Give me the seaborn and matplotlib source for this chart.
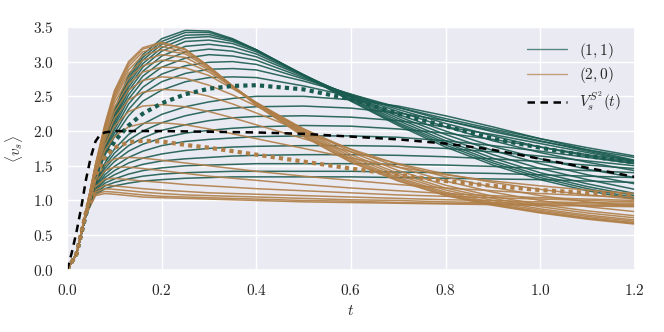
import pandas as pd
import matplotlib
matplotlib.use("Agg")
import matplotlib.pyplot as plt
import seaborn as sns
from matplotlib.lines import Line2D

# sample times shared by the (1,1) and (2,0) curves
t = [0.0, 0.02, 0.04, 0.06, 0.08, 0.10, 0.13, 0.16, 0.20, 0.25, 0.30,
     0.35, 0.40, 0.50, 0.60, 0.70, 0.80, 0.90, 1.00, 1.10, 1.20]

# (1,1) family (highest peak first)
teal_11 = [
    [0, .23, .80, 1.40, 1.90, 2.30, 2.80, 3.10, 3.33, 3.45, 3.44, 3.33, 3.17, 2.80, 2.43, 2.08, 1.77, 1.51, 1.30, 1.14, 1.02],
    [0, .23, .80, 1.39, 1.88, 2.27, 2.76, 3.06, 3.29, 3.42, 3.42, 3.32, 3.17, 2.80, 2.44, 2.10, 1.80, 1.54, 1.33, 1.17, 1.04],
    [0, .23, .80, 1.38, 1.86, 2.24, 2.72, 3.02, 3.25, 3.38, 3.39, 3.31, 3.17, 2.81, 2.46, 2.12, 1.83, 1.57, 1.36, 1.20, 1.07],
    [0, .23, .80, 1.37, 1.84, 2.21, 2.68, 2.97, 3.20, 3.34, 3.36, 3.29, 3.16, 2.81, 2.47, 2.15, 1.86, 1.61, 1.40, 1.24, 1.10],
    [0, .23, .80, 1.36, 1.82, 2.18, 2.63, 2.92, 3.15, 3.29, 3.31, 3.26, 3.14, 2.81, 2.49, 2.18, 1.90, 1.66, 1.46, 1.30, 1.16],
    [0, .23, .80, 1.35, 1.80, 2.15, 2.58, 2.86, 3.08, 3.22, 3.25, 3.21, 3.11, 2.80, 2.50, 2.21, 1.95, 1.72, 1.53, 1.37, 1.24],
    [0, .23, .80, 1.34, 1.77, 2.11, 2.52, 2.79, 3.00, 3.14, 3.18, 3.15, 3.07, 2.79, 2.51, 2.24, 2.00, 1.78, 1.60, 1.45, 1.33],
    [0, .23, .80, 1.33, 1.74, 2.07, 2.46, 2.72, 2.92, 3.05, 3.10, 3.08, 3.02, 2.77, 2.52, 2.28, 2.06, 1.86, 1.69, 1.55, 1.43],
    [0, .23, .80, 1.32, 1.71, 2.02, 2.39, 2.63, 2.82, 2.94, 2.99, 3.00, 2.96, 2.75, 2.53, 2.31, 2.11, 1.93, 1.77, 1.64, 1.53],
    [0, .23, .80, 1.31, 1.68, 1.97, 2.31, 2.54, 2.71, 2.83, 2.89, 2.90, 2.88, 2.72, 2.53, 2.34, 2.15, 1.99, 1.85, 1.73, 1.62],
    [0, .23, .80, 1.30, 1.65, 1.92, 2.22, 2.43, 2.59, 2.71, 2.77, 2.78, 2.77, 2.65, 2.50, 2.34, 2.18, 2.03, 1.89, 1.76, 1.64],
    [0, .23, .80, 1.26, 1.54, 1.74, 1.95, 2.10, 2.24, 2.35, 2.42, 2.47, 2.50, 2.50, 2.45, 2.36, 2.22, 2.06, 1.89, 1.73, 1.58],
    [0, .23, .80, 1.24, 1.50, 1.68, 1.87, 2.00, 2.12, 2.22, 2.29, 2.33, 2.35, 2.36, 2.33, 2.26, 2.15, 2.01, 1.86, 1.71, 1.57],
    [0, .23, .80, 1.22, 1.46, 1.62, 1.79, 1.90, 2.01, 2.09, 2.15, 2.19, 2.21, 2.22, 2.20, 2.15, 2.06, 1.95, 1.82, 1.69, 1.56],
    [0, .23, .80, 1.20, 1.42, 1.56, 1.71, 1.81, 1.90, 1.97, 2.01, 2.04, 2.06, 2.08, 2.07, 2.03, 1.97, 1.88, 1.77, 1.66, 1.55],
    [0, .23, .80, 1.18, 1.37, 1.49, 1.62, 1.71, 1.79, 1.85, 1.88, 1.90, 1.92, 1.93, 1.93, 1.91, 1.86, 1.79, 1.71, 1.62, 1.53],
    [0, .23, .80, 1.16, 1.33, 1.43, 1.54, 1.61, 1.67, 1.72, 1.75, 1.77, 1.78, 1.79, 1.79, 1.78, 1.75, 1.70, 1.64, 1.57, 1.50],
    [0, .23, .80, 1.14, 1.29, 1.37, 1.46, 1.52, 1.57, 1.60, 1.62, 1.64, 1.65, 1.66, 1.66, 1.65, 1.63, 1.60, 1.56, 1.51, 1.46],
    [0, .23, .80, 1.12, 1.25, 1.31, 1.38, 1.43, 1.47, 1.50, 1.51, 1.52, 1.53, 1.53, 1.53, 1.52, 1.51, 1.49, 1.46, 1.43, 1.40],
    [0, .23, .80, 1.10, 1.21, 1.26, 1.31, 1.35, 1.38, 1.40, 1.41, 1.42, 1.42, 1.42, 1.42, 1.41, 1.40, 1.39, 1.37, 1.35, 1.33],
    [0, .23, .80, 1.08, 1.17, 1.21, 1.25, 1.28, 1.30, 1.32, 1.33, 1.34, 1.34, 1.34, 1.34, 1.33, 1.32, 1.31, 1.30, 1.28, 1.26],
]
teal_11_dotted = [0, .23, .80, 1.28, 1.60, 1.85, 2.08, 2.25, 2.40, 2.53, 2.61, 2.65, 2.66, 2.60, 2.46, 2.25, 2.07, 1.89, 1.76, 1.64, 1.55]

# (2,0) family
brown_20 = [
    [0, .23, .85, 1.52, 2.10, 2.58, 3.00, 3.20, 3.28, 3.18, 2.93, 2.64, 2.37, 1.92, 1.55, 1.28, 1.07, 0.93, 0.82, 0.73, 0.66],
    [0, .23, .85, 1.51, 2.08, 2.55, 2.97, 3.18, 3.26, 3.17, 2.93, 2.65, 2.38, 1.93, 1.56, 1.29, 1.08, 0.94, 0.83, 0.74, 0.67],
    [0, .23, .85, 1.50, 2.06, 2.52, 2.93, 3.14, 3.22, 3.14, 2.92, 2.65, 2.39, 1.95, 1.58, 1.31, 1.10, 0.95, 0.84, 0.75, 0.68],
    [0, .23, .85, 1.49, 2.04, 2.49, 2.88, 3.09, 3.17, 3.11, 2.90, 2.65, 2.40, 1.97, 1.60, 1.33, 1.12, 0.97, 0.86, 0.77, 0.70],
    [0, .23, .85, 1.48, 2.01, 2.45, 2.83, 3.02, 3.10, 3.06, 2.88, 2.64, 2.41, 1.99, 1.63, 1.36, 1.15, 1.00, 0.88, 0.79, 0.72],
    [0, .23, .85, 1.47, 1.98, 2.40, 2.76, 2.94, 3.02, 3.00, 2.85, 2.63, 2.41, 2.01, 1.66, 1.39, 1.18, 1.03, 0.91, 0.82, 0.75],
    [0, .23, .84, 1.46, 1.95, 2.34, 2.68, 2.85, 2.92, 2.91, 2.80, 2.61, 2.41, 2.03, 1.70, 1.43, 1.22, 1.06, 0.94, 0.85, 0.78],
    [0, .23, .84, 1.44, 1.91, 2.27, 2.59, 2.73, 2.78, 2.76, 2.66, 2.52, 2.36, 2.03, 1.73, 1.48, 1.28, 1.12, 1.00, 0.91, 0.84],
    [0, .23, .84, 1.42, 1.86, 2.18, 2.45, 2.56, 2.60, 2.58, 2.50, 2.39, 2.26, 1.99, 1.74, 1.52, 1.34, 1.19, 1.07, 0.98, 0.92],
    [0, .23, .83, 1.40, 1.80, 2.07, 2.28, 2.36, 2.38, 2.35, 2.28, 2.19, 2.09, 1.89, 1.70, 1.53, 1.38, 1.26, 1.16, 1.08, 1.02],
    [0, .23, .83, 1.38, 1.72, 1.92, 2.06, 2.11, 2.12, 2.09, 2.03, 1.96, 1.89, 1.75, 1.61, 1.48, 1.37, 1.28, 1.21, 1.15, 1.10],
    [0, .23, .82, 1.30, 1.52, 1.60, 1.62, 1.61, 1.58, 1.54, 1.50, 1.46, 1.42, 1.35, 1.29, 1.23, 1.18, 1.14, 1.10, 1.07, 1.05],
    [0, .23, .82, 1.26, 1.43, 1.48, 1.48, 1.46, 1.43, 1.39, 1.35, 1.32, 1.29, 1.23, 1.18, 1.14, 1.10, 1.07, 1.04, 1.02, 1.00],
    [0, .23, .81, 1.20, 1.31, 1.32, 1.30, 1.28, 1.26, 1.23, 1.21, 1.19, 1.17, 1.14, 1.11, 1.08, 1.06, 1.04, 1.02, 1.00, 0.98],
    [0, .23, .81, 1.15, 1.22, 1.21, 1.19, 1.17, 1.15, 1.13, 1.11, 1.10, 1.09, 1.07, 1.05, 1.03, 1.01, 1.00, 0.98, 0.97, 0.96],
    [0, .23, .80, 1.12, 1.17, 1.16, 1.14, 1.12, 1.10, 1.08, 1.07, 1.06, 1.05, 1.03, 1.01, 1.00, 0.98, 0.97, 0.96, 0.95, 0.94],
    [0, .23, .80, 1.09, 1.13, 1.12, 1.10, 1.08, 1.06, 1.05, 1.04, 1.03, 1.02, 1.00, 0.99, 0.97, 0.96, 0.95, 0.94, 0.93, 0.92],
    [0, .23, .80, 1.07, 1.10, 1.09, 1.07, 1.05, 1.04, 1.03, 1.02, 1.01, 1.00, 0.98, 0.97, 0.96, 0.95, 0.94, 0.93, 0.92, 0.91],
]
brown_20_dotted = [0, .23, .83, 1.35, 1.62, 1.76, 1.84, 1.86, 1.85, 1.80, 1.76, 1.71, 1.66, 1.56, 1.46, 1.37, 1.28, 1.21, 1.15, 1.11, 1.08]

# reference curve V_s^{S^2}(t)
t_ref = [0.0, 0.01, 0.02, 0.03, 0.04, 0.05, 0.06, 0.07, 0.08, 0.10, 0.20,
         0.30, 0.40, 0.50, 0.60, 0.70, 0.80, 0.90, 1.00, 1.10, 1.20]
v_ref = [0.0, 0.25, 0.55, 0.90, 1.30, 1.62, 1.85, 1.95, 1.98, 2.00, 2.00,
         1.99, 1.98, 1.96, 1.92, 1.88, 1.82, 1.73, 1.60, 1.47, 1.34]

TEAL = "#1a5b50"
BROWN = "#b07f48"


def to_long(curves):
    rows = []
    for i, c in enumerate(curves):
        for ti, vi in zip(t, c):
            rows.append((i, ti, vi))
    return pd.DataFrame(rows, columns=["curve", "t", "v"])


sns.set_theme(style="darkgrid")
plt.rcParams["font.family"] = "serif"
plt.rcParams["font.serif"] = ["cmr10"]
plt.rcParams["mathtext.fontset"] = "cm"
plt.rcParams["axes.formatter.use_mathtext"] = True

fig = plt.figure(figsize=(6.64, 3.32), dpi=100)
ax = fig.add_axes([0.101, 0.187, 0.855, 0.732])

sns.lineplot(data=to_long(teal_11), x="t", y="v", units="curve", estimator=None,
             color=TEAL, lw=1.1, alpha=0.9, ax=ax)
sns.lineplot(data=to_long(brown_20), x="t", y="v", units="curve", estimator=None,
             color=BROWN, lw=1.1, alpha=0.9, ax=ax)
sns.lineplot(x=t, y=teal_11_dotted, color=TEAL, lw=3, ls=(0, (1, 1)), ax=ax)
sns.lineplot(x=t, y=brown_20_dotted, color=BROWN, lw=3, ls=(0, (1, 1)), ax=ax)
sns.lineplot(x=t_ref, y=v_ref, color="black", lw=1.8, ls=(0, (3, 2.2)), ax=ax)

ax.set_xlim(0, 1.2)
ax.set_ylim(0, 3.5)
ax.set_xticks([0.0, 0.2, 0.4, 0.6, 0.8, 1.0, 1.2])
ax.set_yticks([0.0, 0.5, 1.0, 1.5, 2.0, 2.5, 3.0, 3.5])
ax.tick_params(labelsize=11)
ax.set_xlabel("$t$", fontsize=11)
ax.set_ylabel(r"$\langle v_s \rangle$", fontsize=11, labelpad=6)

handles = [
    Line2D([], [], color=TEAL, lw=1.0, alpha=0.7),
    Line2D([], [], color=BROWN, lw=1.0, alpha=0.7),
    Line2D([], [], color="black", lw=1.8, ls=(0, (3, 2.2))),
]
labels = ["$(1,1)$", "$(2,0)$", r"$V_s^{S^2}(t)$"]
ax.legend(handles, labels, loc="upper right", fontsize=11, frameon=False,
          handlelength=2.6, labelspacing=0.3)

fig.savefig("out.png", dpi=100)
